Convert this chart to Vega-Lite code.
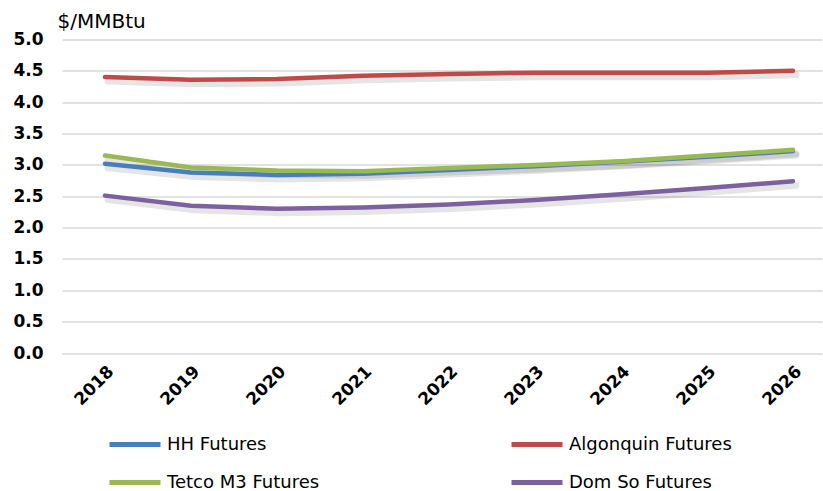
{
  "$schema": "https://vega.github.io/schema/vega-lite/v6.json",
  "width": 760,
  "height": 313.5,
  "autosize": "none",
  "padding": {"left": 62, "top": 39.5, "right": 1, "bottom": 138},
  "background": "white",
  "config": {"view": {"stroke": null}},
  "data": {"values": [
    {"year": "2018", "series": "HH Futures", "price": 3.02},
    {"year": "2019", "series": "HH Futures", "price": 2.88},
    {"year": "2020", "series": "HH Futures", "price": 2.84},
    {"year": "2021", "series": "HH Futures", "price": 2.86},
    {"year": "2022", "series": "HH Futures", "price": 2.92},
    {"year": "2023", "series": "HH Futures", "price": 2.98},
    {"year": "2024", "series": "HH Futures", "price": 3.05},
    {"year": "2025", "series": "HH Futures", "price": 3.13},
    {"year": "2026", "series": "HH Futures", "price": 3.22},
    {"year": "2018", "series": "Algonquin Futures", "price": 4.4},
    {"year": "2019", "series": "Algonquin Futures", "price": 4.36},
    {"year": "2020", "series": "Algonquin Futures", "price": 4.37},
    {"year": "2021", "series": "Algonquin Futures", "price": 4.42},
    {"year": "2022", "series": "Algonquin Futures", "price": 4.45},
    {"year": "2023", "series": "Algonquin Futures", "price": 4.47},
    {"year": "2024", "series": "Algonquin Futures", "price": 4.47},
    {"year": "2025", "series": "Algonquin Futures", "price": 4.47},
    {"year": "2026", "series": "Algonquin Futures", "price": 4.5},
    {"year": "2018", "series": "Tetco M3 Futures", "price": 3.15},
    {"year": "2019", "series": "Tetco M3 Futures", "price": 2.96},
    {"year": "2020", "series": "Tetco M3 Futures", "price": 2.91},
    {"year": "2021", "series": "Tetco M3 Futures", "price": 2.9},
    {"year": "2022", "series": "Tetco M3 Futures", "price": 2.95},
    {"year": "2023", "series": "Tetco M3 Futures", "price": 3.0},
    {"year": "2024", "series": "Tetco M3 Futures", "price": 3.06},
    {"year": "2025", "series": "Tetco M3 Futures", "price": 3.15},
    {"year": "2026", "series": "Tetco M3 Futures", "price": 3.24},
    {"year": "2018", "series": "Dom So Futures", "price": 2.51},
    {"year": "2019", "series": "Dom So Futures", "price": 2.35},
    {"year": "2020", "series": "Dom So Futures", "price": 2.3},
    {"year": "2021", "series": "Dom So Futures", "price": 2.32},
    {"year": "2022", "series": "Dom So Futures", "price": 2.37},
    {"year": "2023", "series": "Dom So Futures", "price": 2.44},
    {"year": "2024", "series": "Dom So Futures", "price": 2.53},
    {"year": "2025", "series": "Dom So Futures", "price": 2.63},
    {"year": "2026", "series": "Dom So Futures", "price": 2.74}
  ]},
  "encoding": {
    "x": {
      "field": "year", "type": "ordinal",
      "scale": {"type": "point", "padding": 0.4186, "align": 0.597},
      "axis": {
        "title": null, "domain": false, "ticks": false, "grid": false,
        "labelAngle": -45, "labelFont": "DejaVu Sans", "labelFontWeight": "bold",
        "labelFontSize": 17, "labelColor": "#000000", "labelPadding": 10
      }
    },
    "y": {
      "field": "price", "type": "quantitative",
      "scale": {"domain": [0, 5], "nice": false},
      "axis": {
        "values": [0, 0.5, 1, 1.5, 2, 2.5, 3, 3.5, 4, 4.5, 5],
        "format": ".1f", "domain": false, "ticks": false,
        "gridColor": "#d9d9d9", "gridWidth": 1.5,
        "labelFont": "DejaVu Sans", "labelFontWeight": "bold", "labelFontSize": 17,
        "labelColor": "#000000", "labelPadding": 19,
        "title": "$/MMBtu", "titleAngle": 0, "titleAlign": "left", "titleBaseline": "alphabetic",
        "titleX": -5, "titleY": -12.5, "titleFont": "DejaVu Sans", "titleFontWeight": "normal",
        "titleFontSize": 20, "titleColor": "#000000"
      }
    }
  },
  "layer": [
    {
      "mark": {"type": "line", "color": "#000000", "opacity": 0.1, "strokeWidth": 7, "xOffset": 3, "yOffset": 4, "strokeCap": "round"},
      "encoding": {"detail": {"field": "series"}}
    },
    {
      "mark": {"type": "line", "strokeWidth": 4.5, "strokeCap": "round", "strokeJoin": "round"},
      "encoding": {
        "color": {
          "field": "series", "type": "nominal",
          "sort": ["HH Futures", "Algonquin Futures", "Tetco M3 Futures", "Dom So Futures"],
          "scale": {
            "domain": ["HH Futures", "Algonquin Futures", "Tetco M3 Futures", "Dom So Futures"],
            "range": ["#4a7ebb", "#be4b48", "#98b954", "#7d60a0"]
          },
          "legend": {
            "title": null, "orient": "none", "legendX": 45, "legendY": 377,
            "direction": "horizontal", "columns": 2, "columnPadding": 181, "rowPadding": -6,
            "symbolType": "stroke", "symbolSize": 2601, "symbolStrokeWidth": 5,
            "labelFont": "DejaVu Sans", "labelFontSize": 18, "labelColor": "#000000",
            "labelOffset": 4, "labelLimit": 300, "offset": 0, "padding": 0
          }
        }
      }
    }
  ]
}
